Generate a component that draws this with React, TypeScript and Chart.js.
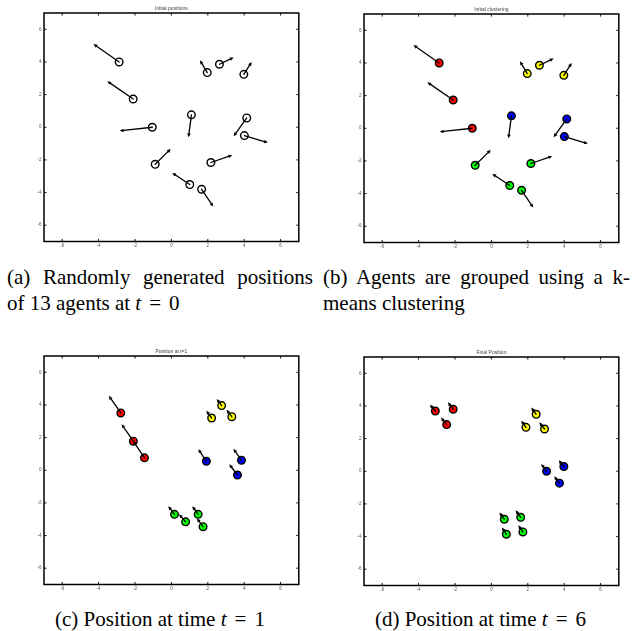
import React, { useEffect, useRef } from "react";
import { Chart, registerables } from "chart.js";

Chart.register(...registerables);

// ---------- data ----------
const tickValues = [-6, -4, -2, 0, 2, 4, 6];
const axisMin = -7;
const axisMax = 7;

const panelTitles = ["Initial positions", "Initial clustering", "Position at t=1", "Final Position"];

const RED = "#ff0000";
const YELLOW = "#ffff00";
const BLUE = "#0000ff";
const GREEN = "#00ff00";
const WHITE = "#ffffff";

// t = 0 (panels a, b)
const initX = [-2.87, -2.1, -1.05, 1.1, 1.97, 2.64, 3.98, 4.14, 4.01, -0.89, 2.17, 1.01, 1.66];
const initY = [4.0, 1.73, 0.0, 0.76, 3.35, 3.86, 3.24, 0.57, -0.51, -2.27, -2.16, -3.51, -3.8];
const initTipX = [-4.28, -3.52, -2.84, 0.94, 1.57, 3.42, 4.41, 3.42, 5.3, -0.04, 3.34, 0.05, 2.3];
const initTipY = [5.1, 2.82, -0.22, -0.61, 4.1, 4.27, 4.0, -0.55, -0.94, -1.33, -1.71, -2.8, -4.86];
const initCluster = [RED, RED, RED, BLUE, YELLOW, YELLOW, YELLOW, BLUE, BLUE, GREEN, GREEN, GREEN, GREEN];
const initWhite = initX.map(() => WHITE);

// t = 1 (panel c)
const t1X = [-2.78, -2.09, -1.48, 2.76, 2.21, 3.32, 1.92, 3.85, 3.63, 0.17, 0.78, 1.47, 1.74];
const t1Y = [3.51, 1.78, 0.76, 3.96, 3.2, 3.28, 0.55, 0.61, -0.29, -2.7, -3.16, -2.7, -3.46];
const t1TipX = [-3.44, -2.74, -2.1, 2.49, 1.92, 3.03, 1.48, 3.41, 3.18, -0.17, 0.42, 1.15, 1.4];
const t1TipY = [4.56, 2.82, 1.8, 4.37, 3.65, 3.7, 1.29, 1.31, 0.37, -2.2, -2.7, -2.2, -2.95];

// t = 6 (panel d)
const t6X = [-3.08, -2.1, -2.46, 2.46, 1.9, 2.92, 3.03, 3.98, 3.74, 0.71, 1.61, 0.82, 1.73];
const t6Y = [3.69, 3.8, 2.86, 3.49, 2.69, 2.59, 0.0, 0.29, -0.73, -2.94, -2.82, -3.86, -3.72];
const t6TipX = [-3.38, -2.39, -2.77, 2.19, 1.64, 2.63, 2.74, 3.7, 3.45, 0.44, 1.33, 0.58, 1.48];
const t6TipY = [4.08, 4.22, 3.29, 3.9, 3.1, 3.0, 0.45, 0.67, -0.31, -2.53, -2.39, -3.45, -3.31];
const laterCluster = [RED, RED, RED, YELLOW, YELLOW, YELLOW, BLUE, BLUE, BLUE, GREEN, GREEN, GREEN, GREEN];

// ---------- plugins ----------
const arrowPlugin = {
  id: "arrows",
  afterDatasetsDraw(chart: any, _args: any, opts: any) {
    const { ctx, scales } = chart;
    const xs = scales.x;
    const ys = scales.y;
    const pts = chart.data.datasets[0].data as { x: number; y: number }[];
    ctx.save();
    ctx.strokeStyle = "#000";
    ctx.fillStyle = "#000";
    ctx.lineWidth = 1.3;
    ctx.lineCap = "round";
    pts.forEach((p, i) => {
      const x0 = xs.getPixelForValue(p.x);
      const y0 = ys.getPixelForValue(p.y);
      const x1 = xs.getPixelForValue(opts.tipX[i]);
      const y1 = ys.getPixelForValue(opts.tipY[i]);
      const ang = Math.atan2(y1 - y0, x1 - x0);
      const L = 3.8;
      const W = 1.8;
      const bx = x1 - L * Math.cos(ang);
      const by = y1 - L * Math.sin(ang);
      ctx.beginPath();
      ctx.moveTo(x0, y0);
      ctx.lineTo(bx, by);
      ctx.stroke();
      ctx.beginPath();
      ctx.moveTo(x1, y1);
      ctx.lineTo(bx + W * Math.sin(ang), by - W * Math.cos(ang));
      ctx.lineTo(bx - W * Math.sin(ang), by + W * Math.cos(ang));
      ctx.closePath();
      ctx.fill();
    });
    ctx.restore();
  },
};

const framePlugin = {
  id: "frame",
  afterDraw(chart: any) {
    const { ctx, chartArea: a, scales } = chart;
    const xs = scales.x;
    const ys = scales.y;
    const tl = 2.6;
    ctx.save();
    ctx.strokeStyle = "#000";
    ctx.lineWidth = 0.9;
    ctx.beginPath();
    xs.ticks.forEach((t: any) => {
      const px = xs.getPixelForValue(t.value);
      ctx.moveTo(px, a.bottom);
      ctx.lineTo(px, a.bottom - tl);
      ctx.moveTo(px, a.top);
      ctx.lineTo(px, a.top + tl);
    });
    ys.ticks.forEach((t: any) => {
      const py = ys.getPixelForValue(t.value);
      ctx.moveTo(a.left, py);
      ctx.lineTo(a.left + tl, py);
      ctx.moveTo(a.right, py);
      ctx.lineTo(a.right - tl, py);
    });
    ctx.stroke();
    ctx.lineWidth = 1.5;
    ctx.strokeRect(a.left, a.top, a.right - a.left, a.bottom - a.top);
    ctx.restore();
  },
};

// ---------- panel ----------
const CW = 300;
const CH = 252;

type PanelProps = {
  title: string;
  xs: number[];
  ys: number[];
  tipX: number[];
  tipY: number[];
  fills: string[];
  left: number;
  top: number;
};

function Panel({ title, xs, ys, tipX, tipY, fills, left, top }: PanelProps) {
  const ref = useRef<HTMLCanvasElement | null>(null);
  useEffect(() => {
    if (!ref.current) return;
    const tickFont = { family: "'Liberation Sans', Arial, sans-serif", size: 4.5 };
    const setTicks = (s: any) => {
      s.ticks = tickValues.map((v) => ({ value: v }));
    };
    const chart = new Chart(ref.current, {
      type: "scatter",
      data: {
        datasets: [
          {
            data: xs.map((x, i) => ({ x, y: ys[i] })),
            backgroundColor: fills,
            borderColor: "#000",
            borderWidth: 1.4,
            pointRadius: 3.8,
            pointHoverRadius: 3.8,
          },
        ],
      },
      options: {
        responsive: false,
        animation: false,
        events: [],
        layout: { padding: { left: 0, right: 4, top: 0, bottom: 0 } },
        scales: {
          x: {
            type: "linear",
            min: axisMin,
            max: axisMax,
            afterBuildTicks: setTicks,
            afterFit: (s: any) => {
              s.height = CH - 241.5;
            },
            grid: { display: false, drawTicks: false },
            border: { display: false },
            ticks: { font: tickFont, color: "#555", padding: 2, maxRotation: 0, autoSkip: false },
          },
          y: {
            type: "linear",
            min: axisMin,
            max: axisMax,
            afterBuildTicks: setTicks,
            afterFit: (s: any) => {
              s.width = 40;
            },
            grid: { display: false, drawTicks: false },
            border: { display: false },
            ticks: { font: tickFont, color: "#555", padding: 2.5, autoSkip: false },
          },
        },
        plugins: {
          legend: { display: false },
          tooltip: { enabled: false },
          title: {
            display: true,
            text: title,
            fullSize: false,
            color: "#444",
            font: { family: "'Liberation Sans', Arial, sans-serif", size: 5, weight: "normal", lineHeight: 1.2 },
            padding: { top: 6, bottom: 1 },
          },
          // @ts-ignore
          arrows: { tipX, tipY },
        },
      } as any,
      plugins: [arrowPlugin, framePlugin],
    });
    return () => chart.destroy();
  }, []);
  return (
    <canvas
      ref={ref}
      width={CW}
      height={CH}
      style={{ position: "absolute", left, top, width: CW, height: CH }}
    />
  );
}

const capFont: React.CSSProperties = {
  fontFamily: "'Liberation Serif', 'Times New Roman', serif",
  fontSize: 21,
  lineHeight: "26px",
  color: "#000",
  position: "absolute",
  whiteSpace: "nowrap",
};

const Eq = ({ v }: { v: string }) => (
  <span>
    <i>t</i>
    <span style={{ display: "inline-block", width: "1.33em", textAlign: "center" }}>=</span>
    {v}
  </span>
);

export default function App() {
  return (
    <div style={{ position: "absolute", left: 0, top: 0, width: 634, height: 631, background: "#fff", overflow: "hidden" }}>
      <Panel title={panelTitles[0]} xs={initX} ys={initY} tipX={initTipX} tipY={initTipY} fills={initWhite} left={4} top={0} />
      <Panel title={panelTitles[1]} xs={initX} ys={initY} tipX={initTipX} tipY={initTipY} fills={initCluster} left={324} top={1} />
      <Panel title={panelTitles[2]} xs={t1X} ys={t1Y} tipX={t1TipX} tipY={t1TipY} fills={laterCluster} left={4} top={343} />
      <Panel title={panelTitles[3]} xs={t6X} ys={t6Y} tipX={t6TipX} tipY={t6TipY} fills={laterCluster} left={324} top={344} />

      <div style={{ ...capFont, left: 7, top: 264, width: 306, textAlign: "justify", textAlignLast: "justify", whiteSpace: "normal" }}>
        (a) Randomly generated positions
      </div>
      <div style={{ ...capFont, left: 7, top: 290 }}>
        of 13 agents at <Eq v="0" />
      </div>
      <div style={{ ...capFont, left: 323, top: 264, width: 307, textAlign: "justify", textAlignLast: "justify", whiteSpace: "normal" }}>
        (b) Agents are grouped using a k-
      </div>
      <div style={{ ...capFont, left: 323, top: 290 }}>means clustering</div>

      <div style={{ ...capFont, left: 7, top: 606, width: 306, textAlign: "center" }}>
        (c) Position at time <Eq v="1" />
      </div>
      <div style={{ ...capFont, left: 327, top: 606, width: 307, textAlign: "center" }}>
        (d) Position at time <Eq v="6" />
      </div>
    </div>
  );
}
